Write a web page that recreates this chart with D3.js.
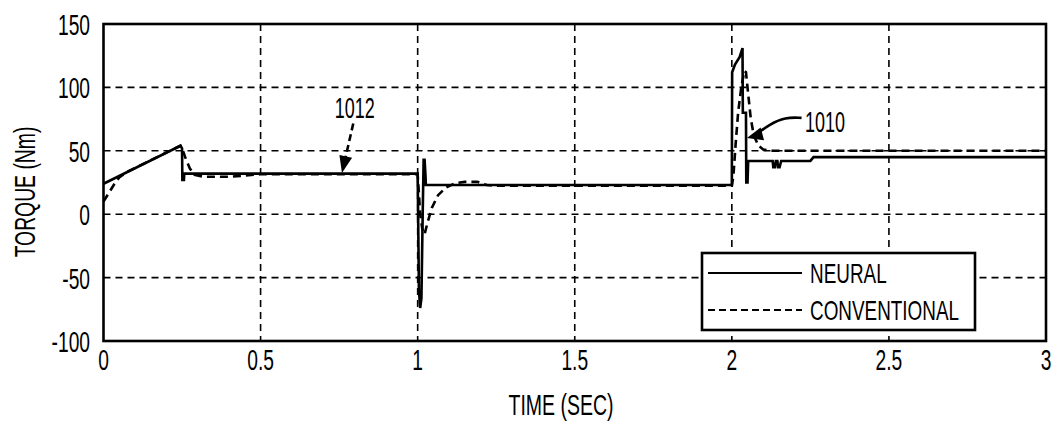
<!DOCTYPE html>
<html><head><meta charset="utf-8">
<script src="https://cdn.jsdelivr.net/npm/d3@7"></script>
<style>body{margin:0;background:#fff}svg{display:block}</style>
</head><body>
<svg id="c" width="1053" height="423"></svg>
<script>
// ---- data ----
const xTicks = [0, 0.5, 1, 1.5, 2, 2.5, 3];
const xTickLabels = ["0", "0.5", "1", "1.5", "2", "2.5", "3"];
const yTicks = [150, 100, 50, 0, -50, -100];
const yTickLabels = ["150", "100", "50", "0", "-50", "-100"];

const neuralTime = [0, 0.245, 0.25, 0.251, 0.256, 0.257, 1.0, 1.001, 1.004, 1.008, 1.012, 1.016, 1.019, 1.022, 1.025, 1.026,
  2.0, 2.001, 2.01, 2.025, 2.034, 2.035, 2.045, 2.046, 2.05, 2.052, 2.053, 2.13, 2.132, 2.137, 2.14, 2.145, 2.147, 2.152, 2.157, 2.25, 2.26, 3.0];
const neuralTorque = [24, 54, 52, 27, 27, 32, 32, 10, -60, -74, -66, 0, 43, 43, 30, 23,
  23, 112, 118, 124, 131, 80, 80, 25, 25, 42, 42, 42, 37, 37, 42, 42, 37, 37, 42, 42, 45, 45];

const convTime = [0, 0.01, 0.02, 0.035, 0.05, 0.08, 0.245, 0.25, 0.26, 0.275, 0.29, 0.32, 0.4, 0.45, 0.5, 1.0,
  1.008, 1.015, 1.022, 1.03, 1.045, 1.065, 1.09, 1.12, 1.15, 1.19, 1.22, 1.25,
  2.0, 2.005, 2.012, 2.02, 2.03, 2.04, 2.045, 2.052, 2.06, 2.07, 2.085, 2.1, 2.13, 3.0];
const convTorque = [10, 14, 18, 24, 29, 34, 54, 52, 45, 36, 31, 29.5, 29.5, 30.5, 31.5, 31.5,
  0, -12, -16, -8, 5, 15, 21, 24.5, 25.5, 25.5, 23, 22.5,
  22.5, 30, 55, 80, 100, 113, 112, 95, 76, 62, 54, 51, 50, 50];

const seriesNames = ["NEURAL", "CONVENTIONAL"];

// annotations in data units: [time, torque]
const ann1012Text = [0.80, 76];
const ann1012Arrow = [[0.795, 71.5], [0.759, 32.5]];
const ann1010Text = [2.233, 65];
const ann1010Arrow = [[2.222, 76], [2.17, 76.5], [2.12, 71], [2.07, 61.5], [2.048, 60]];

// ---- layout ----
const svg = d3.select("#c");
const x = d3.scaleLinear().domain([0, 3]).range([103.5, 1046]);
const y = d3.scaleLinear().domain([-100, 150]).range([341, 24]);
const FONT = "'Liberation Sans',Arial,sans-serif";

function txt(px, py, s, anchor, size, sx, rot) {
  return svg.append("text")
    .attr("transform", `translate(${px},${py})` + (rot ? ` rotate(${rot})` : "") + ` scale(${sx},1)`)
    .attr("text-anchor", anchor)
    .attr("font-family", FONT)
    .attr("font-size", size)
    .attr("fill", "#000")
    .text(s);
}

// grid
const gridX = xTicks.filter(d => d > 0 && d < 3);
const gridY = yTicks.filter(d => d > -100 && d < 150);
svg.append("g").selectAll("line").data(gridX).join("line")
  .attr("x1", d => x(d)).attr("x2", d => x(d)).attr("y1", y(150)).attr("y2", y(-100))
  .attr("stroke", "#000").attr("stroke-width", 1.6).attr("stroke-dasharray", "7,5");
svg.append("g").selectAll("line").data(gridY).join("line")
  .attr("x1", x(0)).attr("x2", x(3)).attr("y1", d => y(d)).attr("y2", d => y(d))
  .attr("stroke", "#000").attr("stroke-width", 1.6).attr("stroke-dasharray", "7,5");

// lines
const line = d3.line().x(d => x(d[0])).y(d => y(d[1]));
const convData = convTime.map((t, i) => [t, convTorque[i]]);
const neuralData = neuralTime.map((t, i) => [t, neuralTorque[i]]);
svg.append("path").attr("d", line(convData)).attr("fill", "none")
  .attr("stroke", "#000").attr("stroke-width", 2.6).attr("stroke-dasharray", "8,5");
svg.append("path").attr("d", line(neuralData)).attr("fill", "none")
  .attr("stroke", "#000").attr("stroke-width", 2.6).attr("stroke-linejoin", "miter");

// frame
svg.append("rect").attr("x", x(0)).attr("y", y(150)).attr("width", x(3) - x(0)).attr("height", y(-100) - y(150))
  .attr("fill", "none").attr("stroke", "#000").attr("stroke-width", 2.6);

// tick labels
xTicks.forEach((d, i) => txt(x(d), 370, xTickLabels[i], "middle", 30, 0.64));
yTicks.forEach((d, i) => txt(90, y(d) + 11, yTickLabels[i], "end", 30, 0.64));

// axis titles
txt(561, 415, "TIME (SEC)", "middle", 30, 0.65);
txt(35, 192, "TORQUE (Nm)", "middle", 30, 0.645, -90);

// annotations
function arrowHead(p0, p1, len, hw) {
  const dx = p1[0] - p0[0], dy = p1[1] - p0[1], L = Math.hypot(dx, dy);
  const ux = dx / L, uy = dy / L, nx = -uy, ny = ux;
  const bx = p1[0] - len * ux, by = p1[1] - len * uy;
  svg.append("polygon").attr("points",
    `${p1[0]},${p1[1]} ${bx + hw * nx},${by + hw * ny} ${bx - hw * nx},${by - hw * ny}`).attr("fill", "#000");
}
txt(x(ann1012Text[0]) - 20, y(ann1012Text[1]), "1012", "start", 30, 0.6);
{
  const a = [x(ann1012Arrow[0][0]), y(ann1012Arrow[0][1])], b = [x(ann1012Arrow[1][0]), y(ann1012Arrow[1][1])];
  const dx = b[0] - a[0], dy = b[1] - a[1], L = Math.hypot(dx, dy);
  svg.append("line").attr("x1", a[0]).attr("y1", a[1])
    .attr("x2", b[0] - dx / L * 14).attr("y2", b[1] - dy / L * 14)
    .attr("stroke", "#000").attr("stroke-width", 2.6).attr("stroke-dasharray", "7,4");
  arrowHead(a, b, 17, 6.5);
}
txt(x(ann1010Text[0]), y(ann1010Text[1]), "1010", "start", 30, 0.6);
{
  const pts = ann1010Arrow.map(p => [x(p[0]), y(p[1])]);
  const curve = d3.line().curve(d3.curveBasis);
  svg.append("path").attr("d", curve(pts.slice(0, pts.length - 1).concat([[pts[pts.length - 1][0] + 10, pts[pts.length - 1][1] - 4]])))
    .attr("fill", "none").attr("stroke", "#000").attr("stroke-width", 2.6);
  arrowHead(pts[pts.length - 2], pts[pts.length - 1], 16, 6.5);
}

// legend
const lg = svg.append("g");
lg.append("rect").attr("x", 702).attr("y", 253).attr("width", 273).attr("height", 77)
  .attr("fill", "#fff").attr("stroke", "#000").attr("stroke-width", 2.6);
const legY = [273, 310];
seriesNames.forEach((n, i) => {
  lg.append("line").attr("x1", 708).attr("x2", 802).attr("y1", legY[i]).attr("y2", legY[i])
    .attr("stroke", "#000").attr("stroke-width", 2)
    .attr("stroke-dasharray", i === 1 ? "7,4" : null);
  txt(810, legY[i] + 10, n, "start", 27, 0.70);
});
</script>
</body></html>
